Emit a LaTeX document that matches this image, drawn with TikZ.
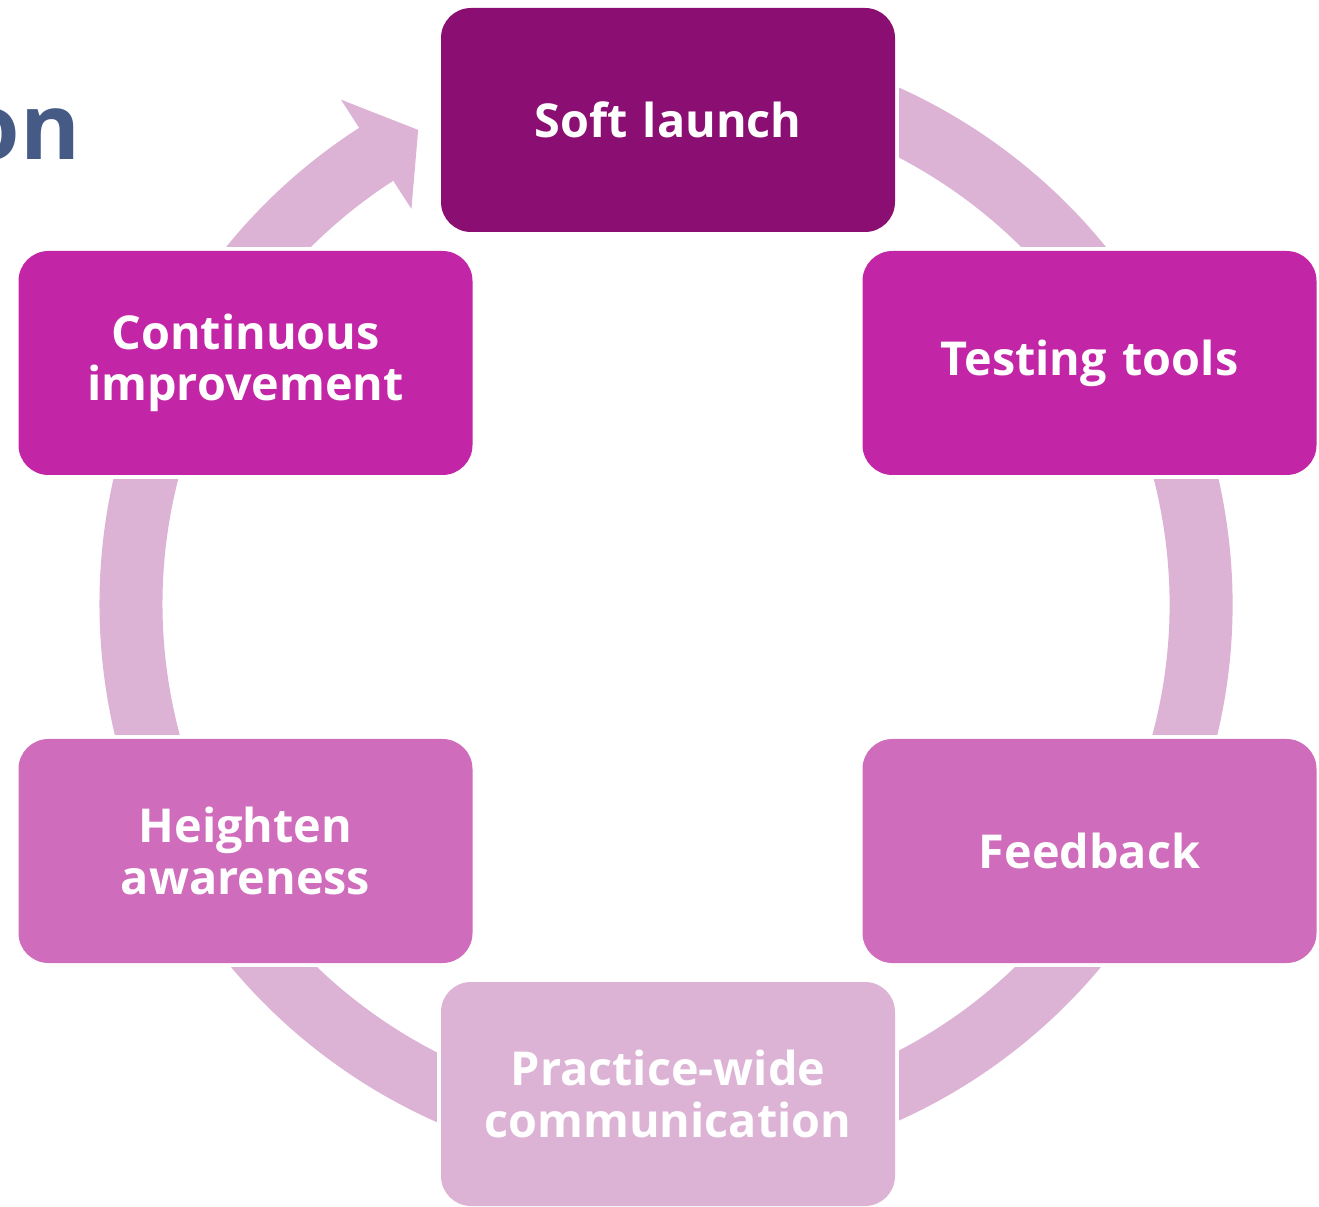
\documentclass[tikz,border=0pt]{standalone}
\usepackage{fontspec}
\setmainfont{Open Sans}
\usetikzlibrary{positioning,backgrounds,calc}

\definecolor{plumdark}{RGB}{139,14,114}
\definecolor{plummid}{RGB}{194,37,166}
\definecolor{plumsoft}{RGB}{207,108,187}
\definecolor{plumpale}{RGB}{220,179,213}
\definecolor{titleblue}{RGB}{70,90,134}

\begin{document}
\begin{tikzpicture}[
    font=\bfseries\fontsize{13.3}{14.6}\selectfont,
    stage/.style={rectangle, rounded corners=3mm, minimum width=4.54cm,
        minimum height=2.24cm, text width=4.3cm, align=center,
        inner sep=0pt, outer sep=0pt, text=white},
    ring/.style={draw=plumpale, line width=6.3mm},
    gap/.style={fill=white}
  ]
  \useasboundingbox (0,0) rectangle (13.19,12.06);
  \coordinate (ctr) at (6.66,6.02);

  % tail of the slide title
  \node[anchor=base east, inner sep=0pt, text=titleblue,
        font=\bfseries\fontsize{26}{30}\selectfont] (title) at (0.81,10.46) {on};

  % the six stages
  \node[stage, fill=plumdark] (soft)       at (6.68,10.86)  {Soft launch};
  \node[stage, fill=plummid]  (testing)    at (10.895,8.43) {Testing tools};
  \node[stage, fill=plumsoft] (feedback)   at (10.895,3.55) {Feedback};
  \node[stage, fill=plumpale] (practice)   at (6.68,1.12)   {Practice-wide\\communication};
  \node[stage, fill=plumsoft] (heighten)   at (2.455,3.55)  {Heighten\\awareness};
  \node[stage, fill=plummid]  (continuous) at (2.455,8.43)  {Continuous\\improvement};

  \begin{pgfonlayer}{background}
    % cycle ring, cut back around every box
    \draw[ring] ($(ctr)+(100:5.35)$) arc[start angle=100, end angle=-237.5, radius=5.35];
    \foreach \n in {soft,testing,feedback,practice,heighten,continuous}
      \fill[gap] ([shift={(-0.04,-0.04)}]\n.south west) rectangle ([shift={(0.04,0.04)}]\n.north east);
    % head pointing back at the first stage
    \fill[plumpale] ($(ctr)+(122.8:6.0)$) -- ($(ctr)+(117.6:5.35)$) -- ($(ctr)+(122.8:4.7)$) -- cycle;
  \end{pgfonlayer}
\end{tikzpicture}
\end{document}
